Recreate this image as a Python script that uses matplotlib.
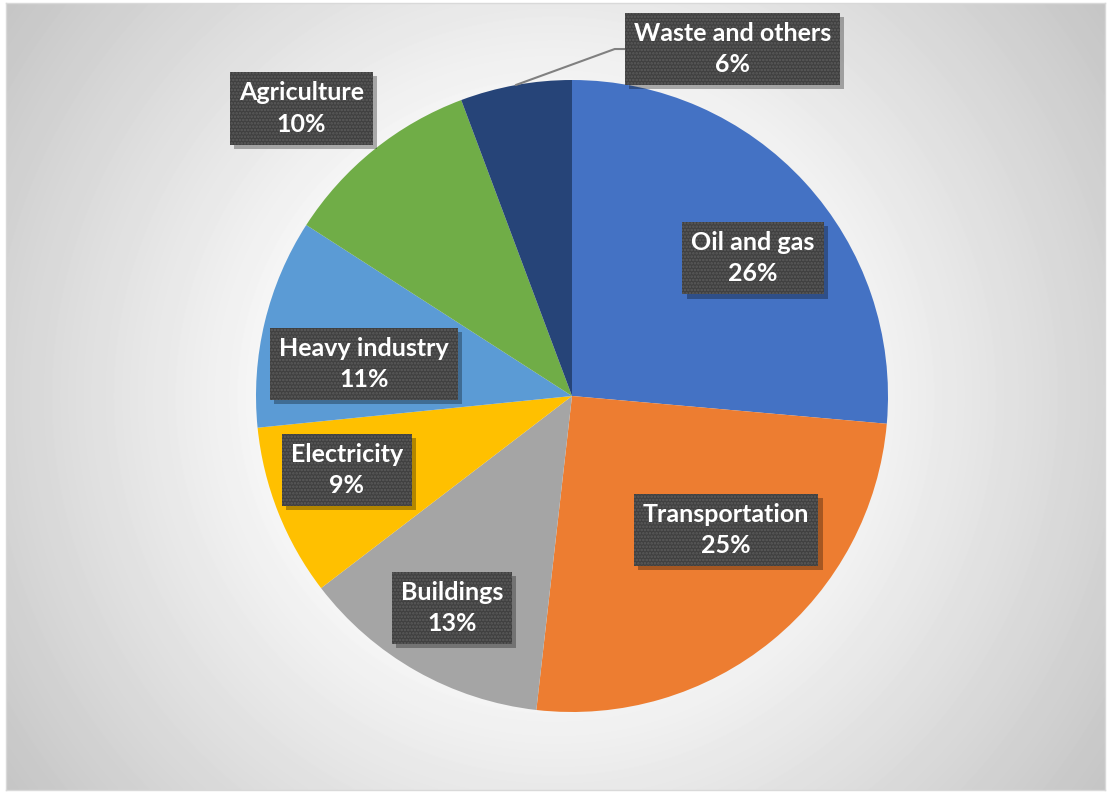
import numpy as np
import matplotlib.pyplot as plt
from matplotlib import patheffects as pe

# --- data ---
sectors = ['Oil and gas', 'Transportation', 'Buildings', 'Electricity',
           'Heavy industry', 'Agriculture', 'Waste and others']
shares = [26.4, 25.4, 12.8, 8.8, 10.7, 10.2, 5.7]
colors = ['#4472C4', '#ED7D31', '#A5A5A5', '#FFC000', '#5B9BD5', '#70AD47', '#264478']

# label placement: distance from centre (in radii) and angle nudge (deg)
label_dist = [0.72, 0.646, 0.771, 0.75, 0.666, 1.25, 1.21]
label_nudge = [-5.2, 9.8, 0.0, -3.4, 4.75, 4.4, -35.1]

W, H = 1111, 793
cx, cy, R = 572, 396, 316   # pie centre / radius in pixels

plt.rcParams['font.family'] = ['Lato', 'DejaVu Sans']
plt.rcParams['hatch.linewidth'] = 1.2

fig = plt.figure(figsize=(W / 100, H / 100), dpi=100)
fig.patch.set_facecolor('white')

# --- chart area background: radial grey gradient ---
x0, y0, x1, y1 = 6, 3, 1105, 790
bg = fig.add_axes([x0 / W, 1 - y1 / H, (x1 - x0) / W, (y1 - y0) / H])
xx, yy = np.meshgrid(np.arange(x0, x1), np.arange(y0, y1))
d = np.hypot(xx - 555, yy - 396)
g = np.clip(284 - 0.129 * d, 190, 252) / 255
bg.imshow(g, cmap='gray', vmin=0, vmax=1, aspect='auto', interpolation='bilinear')
bg.set_xticks([])
bg.set_yticks([])
for s in bg.spines.values():
    s.set_color('#d9d9d9')
    s.set_linewidth(1)

# --- pie ---
ax = fig.add_axes([(cx - R) / W, 1 - (cy + R) / H, 2 * R / W, 2 * R / H])
ax.set_facecolor('none')
wedges, _ = ax.pie(shares, colors=colors, startangle=90, counterclock=False,
                   radius=1, wedgeprops=dict(linewidth=0))
ax.set_xlim(-1, 1)
ax.set_ylim(-1, 1)
ax.set_aspect('equal')
ax.axis('off')

box = dict(boxstyle='square,pad=0.36', facecolor='#404040', edgecolor='#5c5c5c',
           linewidth=0, hatch='.....')
shadow = [pe.SimplePatchShadow(offset=(3, -3), shadow_rgbFace='black', alpha=0.3,
                               hatch=None),
          pe.Normal()]
txt_kw = dict(ha='center', va='center', fontsize=18, fontweight='bold',
              color='white', linespacing=1.45, bbox=box)

for i, w in enumerate(wedges):
    mid = (w.theta1 + w.theta2) / 2
    a = np.deg2rad(mid + label_nudge[i])
    tx, ty = label_dist[i] * np.cos(a), label_dist[i] * np.sin(a)
    txt = f'{sectors[i]}\n{shares[i]:.0f}%'
    if i == len(wedges) - 1:
        ma = np.deg2rad(mid)
        t = ax.annotate(txt, xy=(np.cos(ma), np.sin(ma)), xytext=(tx, ty),
                        arrowprops=dict(arrowstyle='-', color='#808080', lw=1.5,
                                        shrinkA=0, shrinkB=0,
                                        connectionstyle='angle,angleA=0,angleB=20,rad=0'),
                        **txt_kw)
    else:
        t = ax.text(tx, ty, txt, **txt_kw)
    t.get_bbox_patch().set_path_effects(shadow)

fig.savefig('out.png', dpi=100)
